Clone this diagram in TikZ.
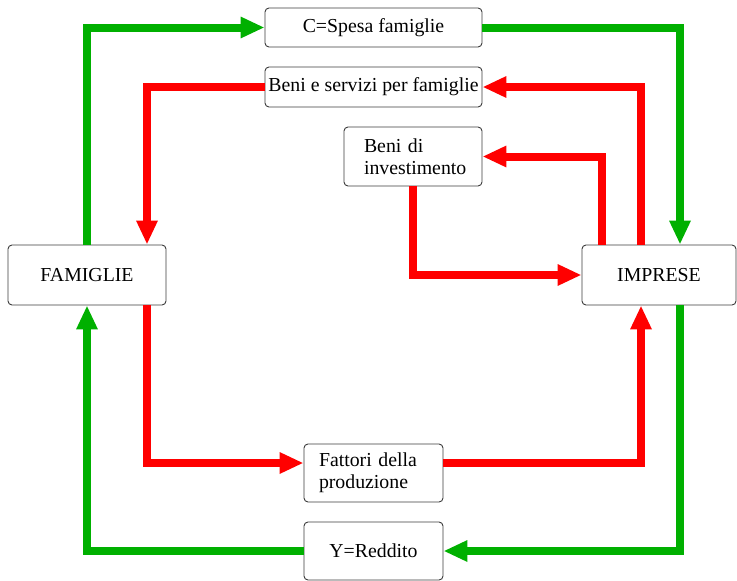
\documentclass[tikz,border=0pt]{standalone}
\usepackage{fontspec}
\setmainfont{Liberation Serif}
\usetikzlibrary{arrows.meta}
\definecolor{flowgreen}{RGB}{0,176,0}
\definecolor{flowred}{RGB}{255,0,0}
\definecolor{boxline}{RGB}{60,60,60}
\begin{document}
\begin{tikzpicture}[x=1pt,y=-1pt,
  box/.style={draw=boxline, line width=0.9pt, rounded corners=4pt, fill=white,
    align=left, inner sep=0pt, font=\fontsize{19.8}{22}\selectfont},
  flow/.style={line width=8pt, -{Triangle[length=24pt,width=20pt]}},
  money/.style={flow, draw=flowgreen},
  goods/.style={flow, draw=flowred}]
\useasboundingbox (0,0) rectangle (737,581);

% sectors and flows
\node[box, minimum width=217pt, minimum height=39pt] (spesa) at (373.5,27.5) {C=Spesa famiglie};
\node[box, minimum width=217pt, minimum height=40pt] (beni) at (373.5,87) {Beni e servizi per famiglie};
\node[box, minimum width=138pt, minimum height=59pt, text width=98pt] (inv) at (413,156.5) {Beni di\\investimento};
\node[box, minimum width=158pt, minimum height=60pt] (fam) at (87,275) {FAMIGLIE};
\node[box, minimum width=154pt, minimum height=60pt] (imp) at (659,275) {IMPRESE};
\node[box, minimum width=139pt, minimum height=58pt, text width=109pt] (fatt) at (373.5,473) {Fattori della\\produzione};
\node[box, minimum width=139pt, minimum height=58pt] (redd) at (373.5,551) {Y=Reddito};

% monetary flows (green)
\draw[money] (fam.north) |- (spesa.west);
\draw[money] (spesa.east) -| ([xshift=21pt]imp.north);
\draw[money] ([xshift=21pt]imp.south) |- (redd.east);
\draw[money] (redd.west) -| (fam.south);

% real flows (red)
\draw[goods] ([xshift=-18pt]imp.north) |- (beni.east);
\draw[goods] (beni.west) -| ([xshift=60pt]fam.north);
\draw[goods] ([xshift=-57pt]imp.north) |- (inv.east);
\draw[goods] (inv.south) |- (imp.west);
\draw[goods] ([xshift=60pt]fam.south) |- ([yshift=10pt]fatt.west);
\draw[goods] ([yshift=10pt]fatt.east) -| ([xshift=-18pt]imp.south);
\end{tikzpicture}
\end{document}
